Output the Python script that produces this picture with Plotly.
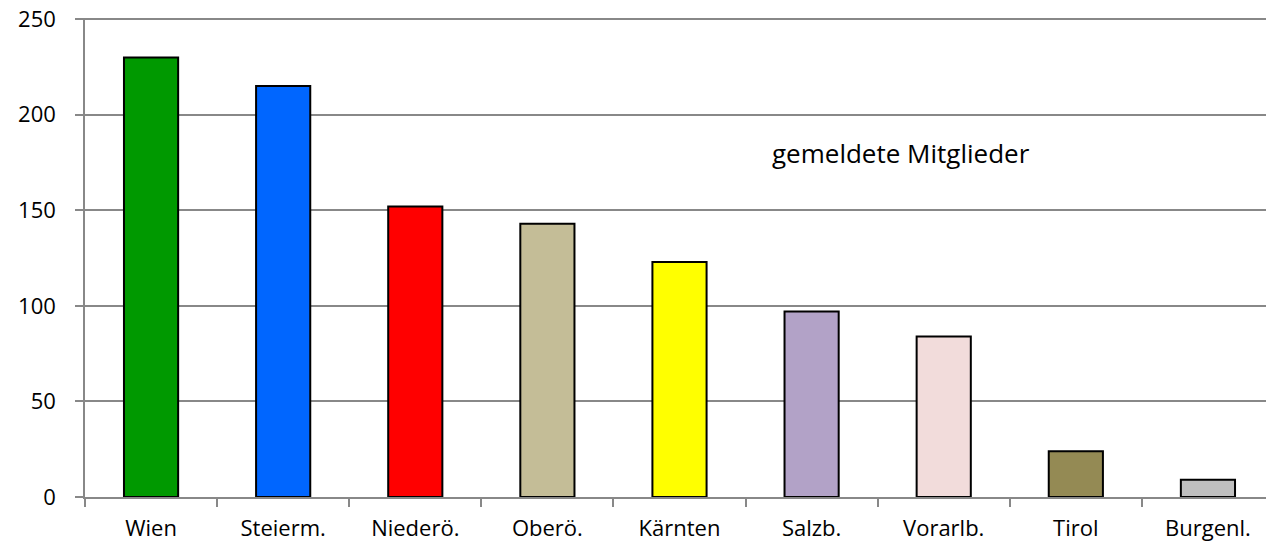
import plotly.graph_objects as go

categories = ["Wien", "Steierm.", "Niederö.", "Oberö.", "Kärnten", "Salzb.", "Vorarlb.", "Tirol", "Burgenl."]
values = [230, 215, 152, 143, 123, 97, 84, 24, 9]
colors = ["#009900", "#0066FF", "#FF0000", "#C4BD97", "#FFFF00", "#B2A2C7", "#F2DCDB", "#948A54", "#BFBFBF"]
y_ticks = [0, 50, 100, 150, 200, 250]
annotation_text = "gemeldete Mitglieder"

fig = go.Figure()
fig.add_trace(go.Bar(
    x=categories, y=values,
    marker=dict(color=colors, line=dict(color="#000000", width=2)),
    width=0.41,
))

font_family = "Open Sans, Noto Sans, sans-serif"
fig.update_layout(
    width=1266, height=539,
    margin=dict(l=77, r=0, t=10, b=50),
    paper_bgcolor="white", plot_bgcolor="white",
    showlegend=False,
    font=dict(family=font_family, size=22, color="#000000"),
    xaxis=dict(
        automargin=False,
        showline=True, linecolor="#888888", linewidth=1.5,
        ticks="outside", tickson="boundaries", ticklen=8, tickcolor="#888888", tickwidth=1.5,
        ticklabelstandoff=11,
        showgrid=False,
        tickfont=dict(size=22),
    ),
    yaxis=dict(
        automargin=False,
        range=[0, 250.6], tickvals=y_ticks,
        showline=True, linecolor="#888888", linewidth=1.5,
        ticks="outside", ticklen=8, tickcolor="#888888", tickwidth=1.5,
        ticklabelstandoff=15,
        ticklabeloverflow="allow",
        showgrid=True, gridcolor="#888888", gridwidth=1.5,
        zeroline=False,
        tickfont=dict(size=22),
    ),
    annotations=[dict(
        x=5.68, y=180, xref="x", yref="y",
        text=annotation_text, showarrow=False,
        font=dict(size=26), xanchor="center", yanchor="middle",
    )],
)

fig.write_html("out.html")
